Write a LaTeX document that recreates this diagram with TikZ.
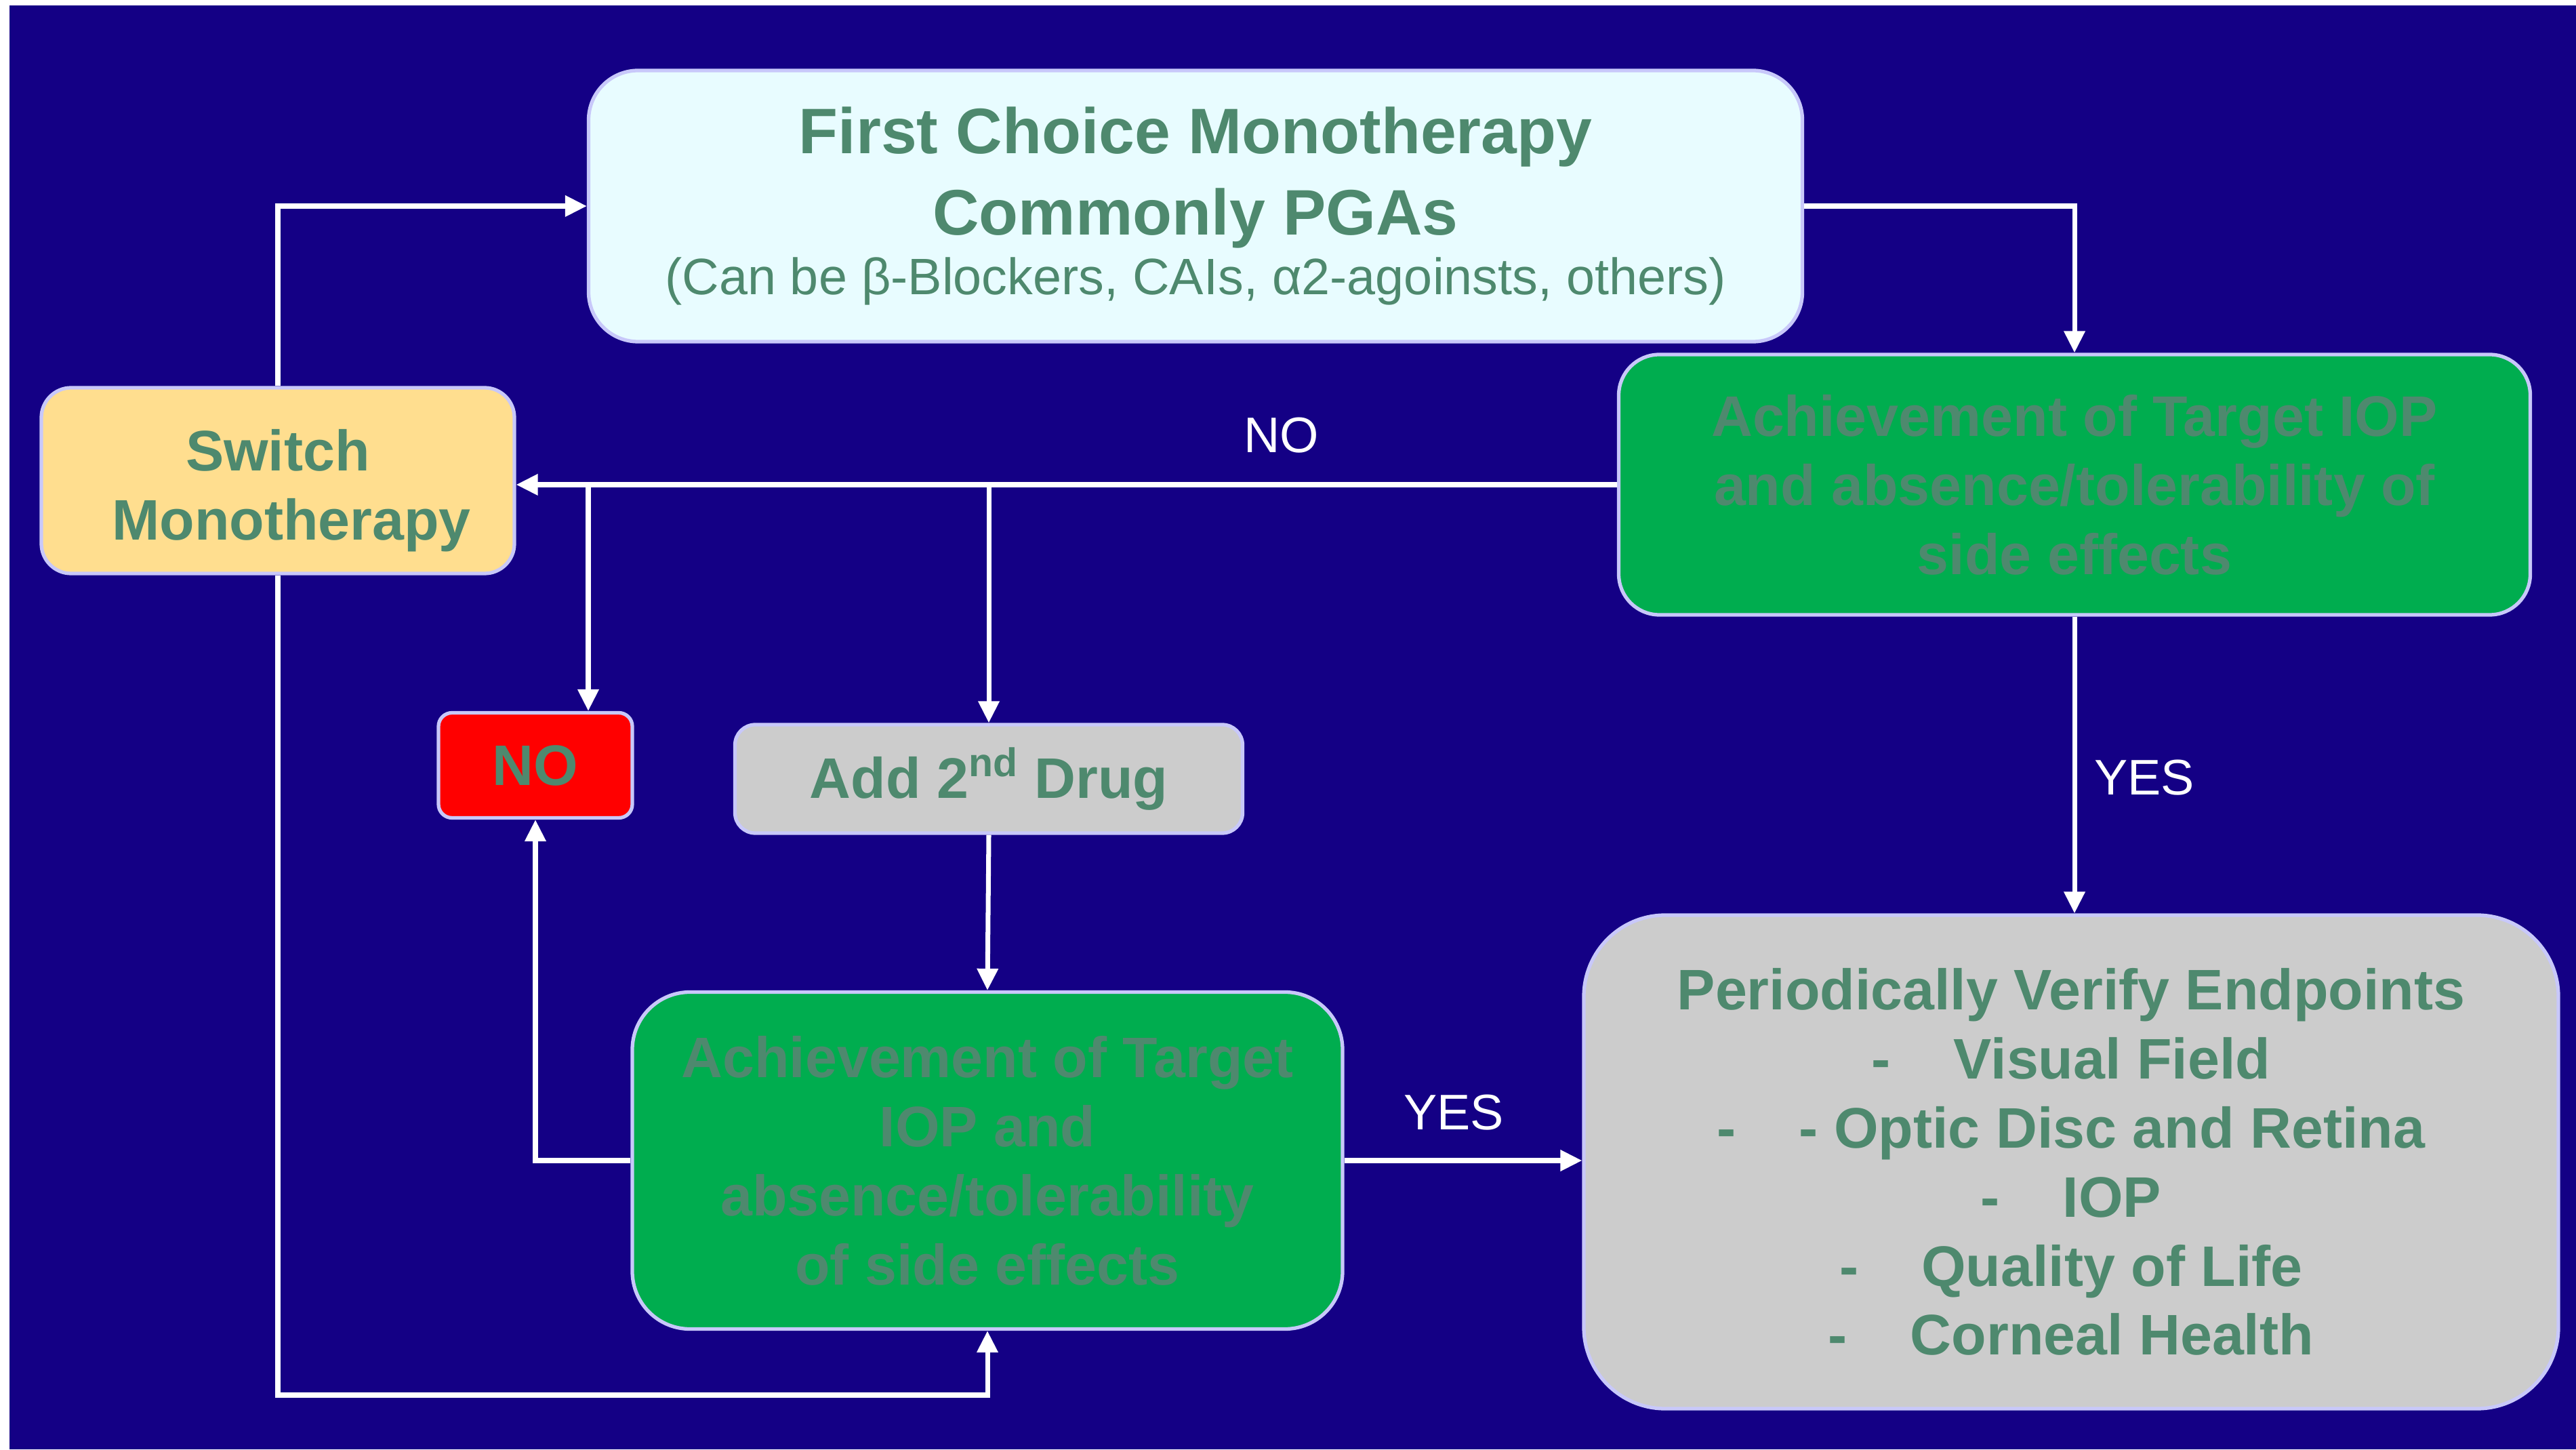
\documentclass[tikz,border=0pt]{standalone}
\usepackage{fontspec}
\setmainfont{Liberation Sans}
\usepackage{xcolor}
\usepackage{tikz}
\usetikzlibrary{calc,arrows.meta}

\definecolor{slidebg}{RGB}{20,0,133}
\definecolor{rim}{RGB}{200,200,250}
\definecolor{paleblue}{RGB}{232,252,255}
\definecolor{okgreen}{RGB}{0,173,79}
\definecolor{softgrey}{RGB}{204,204,204}
\definecolor{sand}{RGB}{255,222,143}
\definecolor{alarm}{RGB}{255,0,0}
\definecolor{inkgreen}{RGB}{78,137,110}

\tikzset{
  box/.style={draw=rim, line width=1.5pt, align=center, text=inkgreen,
    inner sep=0pt, font=\fontsize{24}{29}\selectfont\bfseries},
  flow/.style={draw=white, line width=2pt, -{Triangle[length=0.32cm,width=0.3cm]}},
  wire/.style={draw=white, line width=2pt},
  tag/.style={text=white, font=\fontsize{21}{25}\selectfont}
}

\begin{document}
\begin{tikzpicture}
\useasboundingbox (0,0) rectangle (38.01,21.38);
% Slide background
\fill[white] (0,0) rectangle (38.01,21.38);
\fill[slidebg] (0.14,0) rectangle (38.01,21.30);

% Boxes
\node[box, fill=paleblue, rounded corners=0.73cm, minimum width=17.91cm, minimum height=4.00cm,
  font=\fontsize{27}{34}\selectfont\bfseries] (first) at (17.64,18.34)
  {\rule{0pt}{0.5cm}First Choice Monotherapy\\Commonly PGAs\\[-9pt]
   {\fontsize{21.5}{27}\selectfont\mdseries (Can be β-Blockers, CAIs, α2-agoinsts, others)}};
\node[box, fill=okgreen, rounded corners=0.6cm, minimum width=13.45cm, minimum height=3.84cm] (achA) at (30.61,14.23)
  {Achievement of Target IOP\\and absence/tolerability of\\side effects};
\node[box, fill=sand, rounded corners=0.44cm, minimum width=6.98cm, minimum height=2.74cm] (switch) at (4.10,14.29)
  {\rule{0pt}{0.9cm}Switch\\\hspace{0.4cm}Monotherapy};
\node[box, fill=alarm, rounded corners=0.2cm, minimum width=2.86cm, minimum height=1.55cm] (no) at (7.90,10.09)
  {NO};
\node[box, fill=softgrey, rounded corners=0.3cm, minimum width=7.49cm, minimum height=1.60cm] (add) at (14.59,9.89)
  {Add 2\textsuperscript{nd} Drug};
\node[box, fill=okgreen, rounded corners=0.85cm, minimum width=10.48cm, minimum height=4.97cm] (achB) at (14.57,4.26)
  {Achievement of Target\\IOP and\\absence/tolerability\\of side effects};
\node[box, fill=softgrey, rounded corners=1.2cm, minimum width=14.38cm, minimum height=7.28cm] (verify) at (30.56,4.24)
  {Periodically Verify Endpoints\\
   -\hspace{1.1em}Visual Field\\
   -\hspace{1.1em}- Optic Disc and Retina\\
   -\hspace{1.1em}IOP\\
   -\hspace{1.1em}Quality of Life\\
   -\hspace{1.1em}Corneal Health};

% Branch points on the NO line
\coordinate (brA) at (8.68,14.23);
\coordinate (brB) at (add.north |- achA.west);
\coordinate (low) at (4.10,0.80);

% Connectors
\draw[flow] (switch.north) |- (first.west);
\draw[flow] (first.east) -| (achA.north);
\draw[flow] (achA.west) -- (achA.west -| switch.east);
\draw[flow] (brA) -- (brA |- no.north);
\draw[flow] (brB) -- (add.north);
\draw[flow] (add.south) -- (achB.north);
\draw[flow] (achA.south) -- (achA.south |- verify.north);
\draw[flow] (achB.east) -- (achB.east -| verify.west);
\draw[flow] (achB.west) -| (no.south);
\draw[flow] (switch.south) -- (low) -| (achB.south);

% Labels
\node[tag] (noTag) at (18.91,14.96) {NO};
\node[tag] (yesA) at (31.64,9.91) {YES};
\node[tag] (yesB) at (21.45,4.97) {YES};
\end{tikzpicture}
\end{document}
